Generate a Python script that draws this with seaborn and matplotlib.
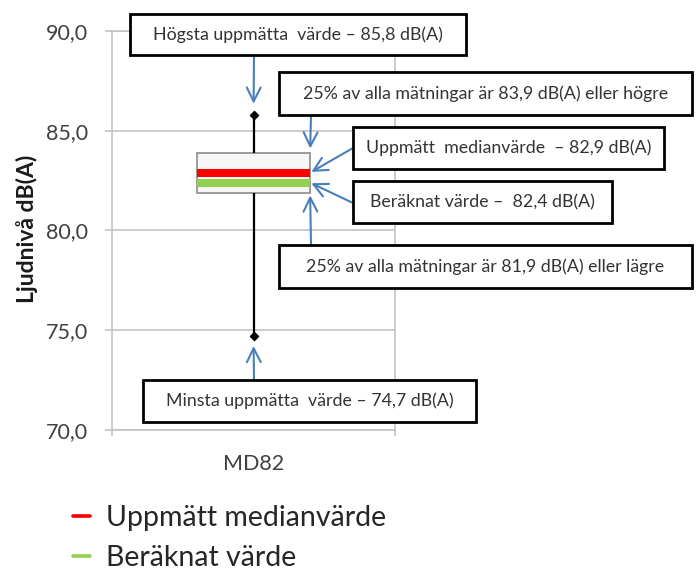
import numpy as np
import pandas as pd
import matplotlib
matplotlib.use("Agg")
import matplotlib.pyplot as plt
import seaborn as sns
from matplotlib.lines import Line2D
from matplotlib.patches import Rectangle
from matplotlib.ticker import FuncFormatter

# ---------------- data ----------------
category = "MD82"
min_value = 74.7
q1_value = 81.9
median_value = 82.9
q3_value = 83.9
max_value = 85.8
calculated_value = 82.4
y_ticks = [70, 75, 80, 85, 90]
y_label = "Ljudnivå dB(A)"
legend_labels = ["Uppmätt medianvärde", "Beräknat värde"]


def sv(v):
    return f"{v:.1f}".replace(".", ",")


annotation_texts = [
    f"Högsta uppmätta  värde – {sv(max_value)} dB(A)",
    f"25% av alla mätningar är {sv(q3_value)} dB(A) eller högre",
    f"Uppmätt  medianvärde  – {sv(median_value)} dB(A)",
    f"Beräknat värde –  {sv(calculated_value)} dB(A)",
    f"25% av alla mätningar är {sv(q1_value)} dB(A) eller lägre",
    f"Minsta uppmätta  värde – {sv(min_value)} dB(A)",
]

# ---------------- style ----------------
sns.set_style("white")
plt.rcParams["font.family"] = ["Lato", "DejaVu Sans"]

W, H = 698, 572
grid_color = "#bfbfbf"
text_color = "#404040"
arrow_color = "#4a7ebb"
red = "#ff0000"
green = "#92d050"
box_width = 0.4

fig = plt.figure(figsize=(W / 100, H / 100), dpi=100)
ax = fig.add_axes([112 / W, 1 - 430 / H, (395 - 112) / W, (430 - 31) / H])

df = pd.DataFrame({
    "Mätpunkt": [category] * 5,
    "Ljudnivå": [min_value, q1_value, median_value, q3_value, max_value],
})

sns.boxplot(data=df, x="Mätpunkt", y="Ljudnivå", width=box_width, whis=(0, 100),
            showcaps=False, showfliers=False, color="#f7f7f7", saturation=1,
            linecolor="#8c8c8c", linewidth=1.2,
            medianprops=dict(color=red, linewidth=5.8),
            whiskerprops=dict(color="black", linewidth=1.6),
            ax=ax)

ax.hlines(calculated_value, -box_width / 2, box_width / 2, color=green, lw=5.8, zorder=5)

sns.scatterplot(x=[0, 0], y=[min_value, max_value], marker="D", s=22,
                color="black", edgecolor="black", zorder=6, legend=False, ax=ax)

ax.set_xlim(-0.5, 0.5)
ax.set_ylim(y_ticks[0], y_ticks[-1])
ax.set_yticks(y_ticks)
ax.yaxis.set_major_formatter(FuncFormatter(lambda v, p: sv(v)))
ax.set_xticks([0])
ax.set_xticklabels([category])
ax.set_xticks([-0.5, 0.5], minor=True)

ax.set_axisbelow(True)
ax.yaxis.grid(True, color=grid_color, lw=1.1)
ax.xaxis.grid(False)
for s in ax.spines.values():
    s.set_visible(True)
    s.set_color(grid_color)
    s.set_linewidth(1.1)

ax.tick_params(axis="y", left=True, length=5, color=grid_color, width=1.1,
               labelsize=15.5, labelcolor=text_color, pad=12)
ax.tick_params(axis="x", which="major", bottom=False, length=0, labelsize=15.5,
               labelcolor=text_color, pad=17)
ax.tick_params(axis="x", which="minor", bottom=True, length=4, color=grid_color, width=1.1)

ax.set_xlabel("")
ax.set_ylabel(y_label, fontsize=16.5, fontweight="bold", color="#1a1a1a")
ax.yaxis.set_label_coords(-0.262, 0.505)

# ---------------- annotations ----------------
boxes_px = [
    (130, 14, 466, 55),
    (279, 72, 692, 115),
    (353, 127, 664, 169),
    (353, 181, 612, 223),
    (279, 245, 692, 288),
    (143, 380, 476, 422),
]
arrow_starts_px = [(254, 55), (311, 115), (353, 148), (353, 203), (311, 245), (254, 380)]
arrow_targets = [
    (0, max_value),
    (box_width / 2, q3_value),
    (box_width / 2, median_value),
    (box_width / 2, calculated_value),
    (box_width / 2, q1_value),
    (0, min_value),
]
arrow_shrink = [8, 3, 1, 1, 2, 7]

for txt, (x0, y0, x1, y1) in zip(annotation_texts, boxes_px):
    fig.add_artist(Rectangle((x0 / W, 1 - y1 / H), (x1 - x0) / W, (y1 - y0) / H,
                             transform=fig.transFigure, facecolor="white",
                             edgecolor="black", lw=2, zorder=3))
    fig.text((x0 + x1) / 2 / W, 1 - (y0 + y1) / 2 / H, txt, ha="center", va="center",
             fontsize=12.8, color="#333333", zorder=4)

for (sx, sy), (tx, ty), sb in zip(arrow_starts_px, arrow_targets, arrow_shrink):
    ax.annotate("", xy=(tx, ty), xycoords="data", xytext=(sx / W, 1 - sy / H),
                textcoords="figure fraction",
                arrowprops=dict(arrowstyle="->,head_length=1.0,head_width=0.5",
                                color=arrow_color, lw=1.5, shrinkA=0, shrinkB=sb),
                annotation_clip=False)

# ---------------- legend ----------------
handles = [Line2D([], [], color=red, lw=2.6), Line2D([], [], color=green, lw=2.6)]
fig.legend(handles, legend_labels, loc="upper left", bbox_to_anchor=(73 / W, 1 - 505 / H),
           frameon=False, fontsize=20.5, handlelength=0.6, handletextpad=0.55,
           labelspacing=0.5, borderpad=0, borderaxespad=0, labelcolor="#262626")

fig.savefig("out.png", dpi=100)
